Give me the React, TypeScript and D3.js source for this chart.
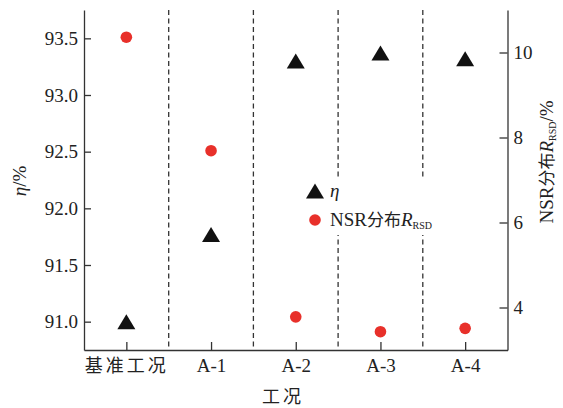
import React, { useRef, useEffect } from "react";
import * as d3 from "d3";

// categories and series
const categories = ["基准工况", "A-1", "A-2", "A-3", "A-4"];
const etaValues = [91.0, 91.77, 93.3, 93.37, 93.32];
const nsrValues = [10.36, 7.69, 3.78, 3.43, 3.51];
const leftTicks = [91.0, 91.5, 92.0, 92.5, 93.0, 93.5];
const rightTicks = [4, 6, 8, 10];

const W = 563;
const H = 408;
const margin = { top: 10, right: 55.5, bottom: 58, left: 84 };
const serif = "'Liberation Serif', 'Times New Roman', serif";
const cjk = "'Noto Sans CJK SC', sans-serif";

const trianglePath = (w: number, h: number) =>
  `M0,${-h / 2}L${w / 2},${h / 2}L${-w / 2},${h / 2}Z`;

const App = () => {
  const ref = useRef<SVGSVGElement | null>(null);

  useEffect(() => {
    const svg = d3.select(ref.current);
    svg.selectAll("*").remove();

    const x0 = margin.left;
    const x1 = W - margin.right;
    const y0 = H - margin.bottom;
    const y1 = margin.top;

    const x = d3.scalePoint<string>().domain(categories).range([x0, x1]).padding(0.5);
    const yL = d3.scaleLinear().domain([90.75, 93.75]).range([y0, y1]);
    const yR = d3.scaleLinear().domain([3, 11]).range([y0, y1]);

    svg.append("rect").attr("width", W).attr("height", H).attr("fill", "#fff");

    // dashed separators between categories
    const step = x.step();
    svg
      .append("g")
      .selectAll("line")
      .data(categories.slice(1))
      .enter()
      .append("line")
      .attr("x1", (d) => x(d)! - step / 2)
      .attr("x2", (d) => x(d)! - step / 2)
      .attr("y1", y1)
      .attr("y2", y0)
      .attr("stroke", "#333")
      .attr("stroke-width", 1.3)
      .attr("stroke-dasharray", "5,3.5");

    const styleAxis = (g: any) => {
      g.select(".domain").attr("stroke", "#333").attr("stroke-width", 1.3);
      g.selectAll(".tick line").attr("stroke", "#333").attr("stroke-width", 1.3);
      g.selectAll(".tick text")
        .attr("fill", "#222")
        .style("font-family", serif)
        .style("font-size", "19px");
    };

    svg
      .append("g")
      .attr("transform", `translate(${x0},0)`)
      .call(
        d3.axisLeft(yL).tickValues(leftTicks).tickFormat(d3.format(".1f")).tickSizeInner(-7).tickSizeOuter(0).tickPadding(6)
      )
      .call(styleAxis);

    svg
      .append("g")
      .attr("transform", `translate(${x1},0)`)
      .call(d3.axisRight(yR).tickValues(rightTicks).tickSizeInner(-8).tickSizeOuter(0).tickPadding(6))
      .call(styleAxis);

    const xAxis = svg
      .append("g")
      .attr("transform", `translate(0,${y0})`)
      .call(d3.axisBottom(x).tickSizeInner(-8).tickSizeOuter(0).tickPadding(9))
      .call(styleAxis);
    xAxis
      .selectAll(".tick text")
      .filter((d: any) => d === categories[0])
      .style("font-family", cjk)
      .style("font-size", "18px")
      .style("letter-spacing", "3px");

    // series
    svg
      .append("g")
      .selectAll("path")
      .data(etaValues)
      .enter()
      .append("path")
      .attr("d", trianglePath(18, 15))
      .attr("transform", (d, i) => `translate(${x(categories[i])},${yL(d)})`)
      .attr("fill", "#111");

    svg
      .append("g")
      .selectAll("circle")
      .data(nsrValues)
      .enter()
      .append("circle")
      .attr("cx", (d, i) => x(categories[i])!)
      .attr("cy", (d) => yR(d))
      .attr("r", 5.8)
      .attr("fill", "#e8302a");

    // legend
    const lg = svg.append("g");
    lg.append("rect").attr("x", 302).attr("y", 177).attr("width", 152).attr("height", 58).attr("fill", "#fff");
    lg.append("path").attr("d", trianglePath(18, 15)).attr("transform", "translate(315,191)").attr("fill", "#111");
    lg.append("text")
      .attr("x", 330)
      .attr("y", 197)
      .style("font-family", serif)
      .style("font-style", "italic")
      .style("font-size", "19px")
      .attr("fill", "#222")
      .text("η");
    lg.append("circle").attr("cx", 315).attr("cy", 220).attr("r", 5.8).attr("fill", "#e8302a");
    const lt = lg
      .append("text")
      .attr("x", 330)
      .attr("y", 226)
      .attr("fill", "#222")
      .style("font-family", serif)
      .style("font-size", "19px");
    lt.append("tspan").text("NSR");
    lt.append("tspan").style("font-family", cjk).style("font-size", "17px").text("分布");
    lt.append("tspan").style("font-style", "italic").text("R");
    lt.append("tspan").style("font-size", "10px").attr("dy", 3).text("RSD");

    // axis titles
    svg
      .append("text")
      .attr("transform", "translate(26,181) rotate(-90)")
      .attr("text-anchor", "middle")
      .attr("fill", "#222")
      .style("font-family", serif)
      .style("font-size", "19px")
      .call((t: any) => {
        t.append("tspan").style("font-style", "italic").text("η");
        t.append("tspan").text("/%");
      });

    const rt = svg
      .append("text")
      .attr("transform", "translate(553,162) rotate(-90)")
      .attr("text-anchor", "middle")
      .attr("fill", "#222")
      .style("font-family", serif)
      .style("font-size", "19px");
    rt.append("tspan").text("NSR");
    rt.append("tspan").style("font-family", cjk).style("font-size", "17px").text("分布");
    rt.append("tspan").style("font-style", "italic").text("R");
    rt.append("tspan").style("font-size", "10px").attr("dy", 3).text("RSD");
    rt.append("tspan").attr("dy", -3).text("/%");

    svg
      .append("text")
      .attr("x", 283)
      .attr("y", 403)
      .attr("text-anchor", "middle")
      .attr("fill", "#222")
      .style("font-family", cjk)
      .style("font-size", "18px")
      .style("letter-spacing", "3px")
      .text("工况");
  }, []);

  return (
    <svg
      ref={ref}
      width={W}
      height={H}
      style={{ position: "fixed", left: 0, top: 0, display: "block" }}
    ></svg>
  );
};

export default App;
